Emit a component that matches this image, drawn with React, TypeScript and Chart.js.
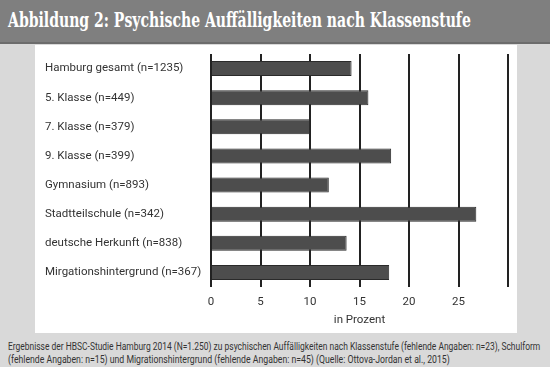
import React, { useEffect, useLayoutEffect, useRef, useState } from "react";
import { Chart, registerables } from "chart.js";
Chart.register(...registerables);

const title = "Abbildung 2: Psychische Auffälligkeiten nach Klassenstufe";
const categories = [
  "Hamburg gesamt (n=1235)",
  "5. Klasse (n=449)",
  "7. Klasse (n=379)",
  "9. Klasse (n=399)",
  "Gymnasium (n=893)",
  "Stadtteilschule (n=342)",
  "deutsche Herkunft (n=838)",
  "Mirgationshintergrund (n=367)",
];
const values = [14.2, 15.9, 10.0, 18.2, 11.9, 26.8, 13.7, 18.0];
const xMin = 0;
const xMax = 30;
const xStep = 5;
const hiddenTickValues = [30];
const axisTitle = "in Prozent";
const captionLines = [
  "Ergebnisse der HBSC-Studie Hamburg 2014 (N=1.250) zu psychischen Auffälligkeiten nach Klassenstufe (fehlende Angaben: n=23), Schulform",
  "(fehlende Angaben: n=15) und Migrationshintergrund (fehlende Angaben: n=45) (Quelle: Ottova-Jordan et al., 2015)",
];

const LABEL_FONT = "Roboto";

function FitText({ text, width, style }: { text: string; width: number; style: React.CSSProperties }) {
  const ref = useRef<HTMLSpanElement>(null);
  const [scale, setScale] = useState(1);
  useLayoutEffect(() => {
    const measure = () => {
      const el = ref.current;
      if (!el) return;
      const w = el.offsetWidth;
      if (w > 0) setScale(width / w);
    };
    measure();
    if ((document as any).fonts && (document as any).fonts.ready) {
      (document as any).fonts.ready.then(measure);
    }
  }, [text, width]);
  return (
    <span
      ref={ref}
      style={{
        ...style,
        display: "inline-block",
        whiteSpace: "nowrap",
        transform: `scaleX(${scale})`,
        transformOrigin: "left center",
      }}
    >
      {text}
    </span>
  );
}

function BarChart() {
  const canvasRef = useRef<HTMLCanvasElement>(null);
  useEffect(() => {
    const canvas = canvasRef.current;
    if (!canvas) return;
    const font = { family: LABEL_FONT, size: 11.5 };
    const chart = new Chart(canvas, {
      type: "bar",
      data: {
        labels: categories,
        datasets: [
          {
            data: values,
            backgroundColor: "#4d4d4d",
            borderColor: "#2a2a2a",
            borderWidth: 1,
            barPercentage: 0.515,
            categoryPercentage: 1,
          },
        ],
      },
      options: {
        indexAxis: "y",
        animation: false,
        responsive: false,
        maintainAspectRatio: false,
        layout: { padding: { left: 10, top: 9, right: 9, bottom: 0 } },
        plugins: { legend: { display: false }, tooltip: { enabled: false } },
        scales: {
          x: {
            type: "linear",
            min: xMin,
            max: xMax,
            grid: { color: "#222", lineWidth: 2, drawTicks: false },
            border: { display: false },
            ticks: {
              stepSize: xStep,
              padding: 8,
              color: "#333",
              font,
              callback: (v: any) => (hiddenTickValues.includes(Number(v)) ? "" : String(v)),
            },
            title: {
              display: true,
              text: axisTitle,
              color: "#333",
              font,
              padding: { top: 0, bottom: 6 },
            },
            afterFit: (s: any) => {
              s.height = 46;
            },
          },
          y: {
            grid: { display: false },
            border: { display: false },
            ticks: { crossAlign: "far", color: "#333", font, padding: 0 },
            afterFit: (s: any) => {
              s.width = 166;
            },
          },
        },
      },
    } as any);
    return () => chart.destroy();
  }, []);
  return <canvas ref={canvasRef} width={482} height={288} style={{ display: "block", width: 482, height: 288 }} />;
}

export default function App() {
  return (
    <div
      style={{
        position: "absolute",
        left: 0,
        top: 0,
        width: 550,
        height: 367,
        overflow: "hidden",
        background: "#d9d9d9",
      }}
    >
      <div
        style={{
          position: "absolute",
          left: 0,
          top: 0,
          width: 550,
          height: 42,
          background: "#7f7f7f",
          borderBottom: "2px solid #6c6c6c",
        }}
      >
        <div style={{ position: "absolute", left: 8, top: 9, lineHeight: "22px" }}>
          <FitText
            text={title}
            width={463}
            style={{
              fontFamily: '"DejaVu Serif Condensed", "DejaVu Serif", serif',
              fontWeight: "bold",
              fontSize: 20,
              color: "#ffffff",
            }}
          />
        </div>
      </div>
      <div
        style={{
          position: "absolute",
          left: 35,
          top: 45,
          width: 482,
          height: 288,
          background: "#ffffff",
        }}
      >
        <BarChart />
      </div>
      <div style={{ position: "absolute", left: 8, top: 339, lineHeight: "12.6px" }}>
        {captionLines.map((line, i) => (
          <div key={i} style={{ height: 12.6 }}>
            <FitText
              text={line}
              width={i === 0 ? 532 : 442}
              style={{ fontFamily: LABEL_FONT, fontSize: 10, color: "#333" }}
            />
          </div>
        ))}
      </div>
    </div>
  );
}
